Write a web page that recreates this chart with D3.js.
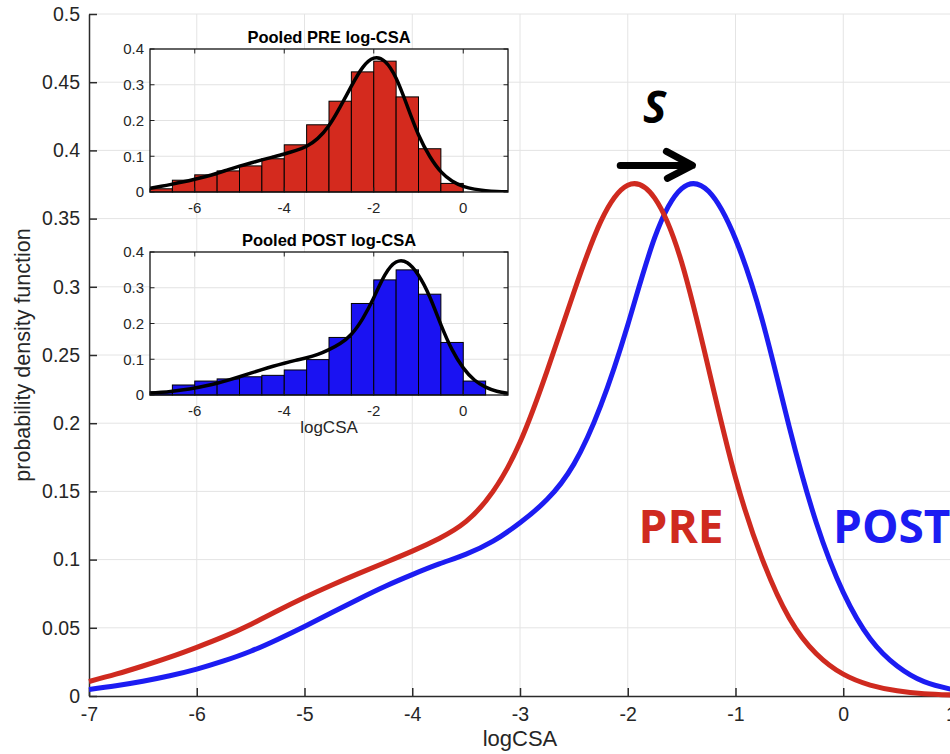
<!DOCTYPE html>
<html lang="en">
<head>
<meta charset="utf-8">
<style>
  body { margin: 0; background: white; }
  svg { font-family: 'Liberation Sans', Arial, sans-serif; background: white; }
  .grid line { stroke: #e4e4e4; stroke-width: 1; }
  .axis path, .axis line { stroke: #2b2b2b; stroke-width: 1.5; }
  .axis text { fill: #262626; }
  .inset-grid line { stroke: #e2e2e2; stroke-width: 1; }
</style>
</head>
<body>
<svg width="950" height="754"></svg>
<script src="https://d3js.org/d3.v7.min.js"></script>
<script>
// kernel density estimates, sampled every 0.25 logCSA
var xGrid = [-7, -6.75, -6.5, -6.25, -6, -5.75, -5.5, -5.25, -5, -4.75, -4.5, -4.25, -4,
  -3.75, -3.5, -3.25, -3, -2.75, -2.5, -2.25, -2, -1.75, -1.5, -1.25, -1,
  -0.75, -0.5, -0.25, 0, 0.25, 0.5, 0.75, 1];
var prePdf = [0.0106, 0.016, 0.022, 0.0285, 0.0357, 0.0435, 0.0525, 0.0625, 0.0722, 0.0812, 0.0897, 0.0979, 0.1062,
  0.1155, 0.128, 0.150, 0.186, 0.238, 0.296, 0.348, 0.3745, 0.365, 0.318, 0.240, 0.160,
  0.100, 0.057, 0.031, 0.016, 0.008, 0.0038, 0.0017, 0.0008];
var postPdf = [0.0048, 0.0075, 0.0108, 0.0148, 0.0197, 0.0257, 0.0328, 0.0415, 0.051, 0.061, 0.071, 0.0805, 0.089,
  0.0968, 0.104, 0.1135, 0.127, 0.144, 0.170, 0.213, 0.272, 0.336, 0.372, 0.370, 0.335,
  0.275, 0.197, 0.127, 0.076, 0.042, 0.022, 0.0105, 0.005];

// pooled histograms, bins of 0.5 starting at -7
var binStart = -7, binWidth = 0.5;
var preBins = [0.009, 0.033, 0.048, 0.059, 0.073, 0.093, 0.132, 0.188, 0.254, 0.336, 0.366, 0.266, 0.121, 0.024];
var postBins = [0.009, 0.028, 0.039, 0.045, 0.051, 0.055, 0.070, 0.099, 0.161, 0.256, 0.322, 0.350, 0.282, 0.147, 0.039];

var xTicks = [-7, -6, -5, -4, -3, -2, -1, 0, 1];
var yTicks = [0, 0.05, 0.1, 0.15, 0.2, 0.25, 0.3, 0.35, 0.4, 0.45, 0.5];
var insetXTicks = [-6, -4, -2, 0];
var insetYTicks = [0, 0.1, 0.2, 0.3, 0.4];

var red = "#cf2a1f", blue = "#1c1cf2";

var svg = d3.select("svg");
var x = d3.scaleLinear().domain([-7, 1]).range([89, 951]);
var y = d3.scaleLinear().domain([0, 0.5]).range([696, 14]);
var fmt = function(d) { return String(+d.toFixed(2)); };

// grid
svg.append("g").attr("class", "grid").selectAll("line")
  .data(xTicks.slice(1)).enter().append("line")
  .attr("x1", d => x(d)).attr("x2", d => x(d))
  .attr("y1", y(0)).attr("y2", y(0.5));
svg.append("g").attr("class", "grid").selectAll("line")
  .data(yTicks.slice(1)).enter().append("line")
  .attr("x1", x(-7)).attr("x2", x(1))
  .attr("y1", d => y(d)).attr("y2", d => y(d));

// axes, ticks point inward like matlab
var gx = svg.append("g").attr("class", "axis")
  .attr("transform", "translate(0," + y(0) + ")")
  .call(d3.axisBottom(x).tickValues(xTicks).tickSize(-8).tickSizeOuter(0).tickPadding(11).tickFormat(fmt));
var gy = svg.append("g").attr("class", "axis")
  .attr("transform", "translate(" + x(-7) + ",0)")
  .call(d3.axisLeft(y).tickValues(yTicks).tickSize(-8).tickSizeOuter(0).tickPadding(9).tickFormat(fmt));
[gx, gy].forEach(g => g.attr("font-family", null).attr("font-size", 19.5));

svg.append("text")
  .attr("x", 520).attr("y", 746)
  .attr("text-anchor", "middle").attr("font-size", 22).attr("fill", "#262626")
  .text("logCSA");
svg.append("text")
  .attr("transform", "translate(30,355) rotate(-90)")
  .attr("text-anchor", "middle").attr("font-size", 21.5).attr("fill", "#262626")
  .text("probability density function");

// main curves
var line = d3.line()
  .x((d, i) => x(xGrid[i]))
  .y(d => y(d))
  .curve(d3.curveNatural);
svg.append("path").attr("d", line(postPdf))
  .attr("fill", "none").attr("stroke", blue).attr("stroke-width", 5);
svg.append("path").attr("d", line(prePdf))
  .attr("fill", "none").attr("stroke", red).attr("stroke-width", 5);

// shift annotation
var ay = y(0.389), ax0 = x(-2.07), ax1 = x(-1.40);
svg.append("path")
  .attr("d", "M" + ax0 + "," + ay + "H" + ax1 +
    "M" + (ax1 - 26) + "," + (ay - 14) + "L" + ax1 + "," + ay + "L" + (ax1 - 25) + "," + (ay + 13))
  .attr("fill", "none").attr("stroke", "black").attr("stroke-width", 7)
  .attr("stroke-linecap", "round").attr("stroke-linejoin", "round");
svg.append("text")
  .attr("x", x(-1.75)).attr("y", y(0.42))
  .attr("text-anchor", "middle")
  .attr("font-family", "'Open Sans', sans-serif").attr("font-style", "italic")
  .attr("font-weight", 700).attr("font-size", 44)
  .text("S");

svg.append("text")
  .attr("x", x(-1.90)).attr("y", y(0.112))
  .attr("font-family", "'Open Sans', sans-serif").attr("font-weight", 700).attr("font-size", 46)
  .attr("fill", red).text("PRE");
svg.append("text")
  .attr("x", x(-0.095)).attr("y", y(0.112))
  .attr("font-family", "'Open Sans', sans-serif").attr("font-weight", 700).attr("font-size", 46)
  .attr("fill", blue).text("POST");

// insets
function drawInset(top, bins, pdf, fill, title, xlabel, id) {
  var h = 143;
  var ix = d3.scaleLinear().domain([-7, 1]).range([150, 508]);
  var iy = d3.scaleLinear().domain([0, 0.4]).range([top + h, top]);
  var g = svg.append("g");

  g.append("clipPath").attr("id", id).append("rect")
    .attr("x", ix(-7)).attr("y", iy(0.4)).attr("width", ix(1) - ix(-7)).attr("height", h);

  g.append("rect")
    .attr("x", ix(-7)).attr("y", iy(0.4))
    .attr("width", ix(1) - ix(-7)).attr("height", h)
    .attr("fill", "white");

  var grid = g.append("g").attr("class", "inset-grid");
  grid.selectAll(".vx").data(insetXTicks).enter().append("line")
    .attr("x1", d => ix(d)).attr("x2", d => ix(d))
    .attr("y1", iy(0)).attr("y2", iy(0.4));
  grid.selectAll(".hy").data(insetYTicks.slice(1, -1)).enter().append("line")
    .attr("x1", ix(-7)).attr("x2", ix(1))
    .attr("y1", d => iy(d)).attr("y2", d => iy(d));

  g.append("g").selectAll("rect").data(bins).enter().append("rect")
    .attr("x", (d, i) => ix(binStart + i * binWidth))
    .attr("width", ix(binWidth) - ix(0))
    .attr("y", d => iy(d))
    .attr("height", d => iy(0) - iy(d))
    .attr("fill", fill).attr("stroke", "black").attr("stroke-width", 1);

  var iline = d3.line()
    .x((d, i) => ix(xGrid[i]))
    .y(d => iy(d))
    .curve(d3.curveNatural);
  g.append("path").attr("d", iline(pdf))
    .attr("clip-path", "url(#" + id + ")")
    .attr("fill", "none").attr("stroke", "black").attr("stroke-width", 3.5);

  // ticks on all four sides, inward
  var t = 4.5, tk = g.append("g").attr("stroke", "#222").attr("stroke-width", 1);
  insetXTicks.forEach(function(d) {
    tk.append("line").attr("x1", ix(d)).attr("x2", ix(d)).attr("y1", iy(0)).attr("y2", iy(0) - t);
    tk.append("line").attr("x1", ix(d)).attr("x2", ix(d)).attr("y1", iy(0.4)).attr("y2", iy(0.4) + t);
  });
  insetYTicks.forEach(function(d) {
    tk.append("line").attr("x1", ix(-7)).attr("x2", ix(-7) + t).attr("y1", iy(d)).attr("y2", iy(d));
    tk.append("line").attr("x1", ix(1)).attr("x2", ix(1) - t).attr("y1", iy(d)).attr("y2", iy(d));
  });

  g.append("rect")
    .attr("x", ix(-7)).attr("y", iy(0.4))
    .attr("width", ix(1) - ix(-7)).attr("height", h)
    .attr("fill", "none").attr("stroke", "#111").attr("stroke-width", 1.3);

  g.append("g").selectAll("text").data(insetYTicks).enter().append("text")
    .attr("x", ix(-7) - 6).attr("y", d => iy(d)).attr("dy", "0.35em")
    .attr("text-anchor", "end").attr("font-size", 15).attr("fill", "#262626")
    .text(fmt);
  g.append("g").selectAll("text").data(insetXTicks).enter().append("text")
    .attr("x", d => ix(d)).attr("y", iy(0) + 16).attr("dy", "0.35em")
    .attr("text-anchor", "middle").attr("font-size", 15).attr("fill", "#262626")
    .text(fmt);

  g.append("text")
    .attr("x", (ix(-7) + ix(1)) / 2).attr("y", top - 6)
    .attr("text-anchor", "middle").attr("font-size", 16.5).attr("font-weight", 700)
    .text(title);
  if (xlabel) {
    g.append("text")
      .attr("x", (ix(-7) + ix(1)) / 2).attr("y", top + h + 38)
      .attr("text-anchor", "middle").attr("font-size", 17).attr("fill", "#262626")
      .text(xlabel);
  }
}

drawInset(49, preBins, prePdf, "#d42a1e", "Pooled PRE log-CSA", null, "clipPre");
drawInset(252, postBins, postPdf, "#1a12f2", "Pooled POST log-CSA", "logCSA", "clipPost");
</script>
</body>
</html>
